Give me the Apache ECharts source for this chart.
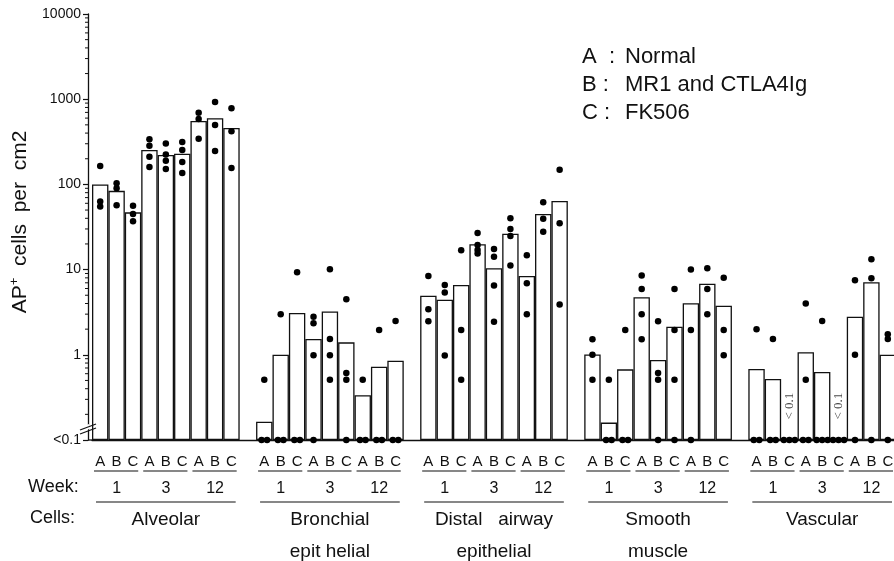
<!DOCTYPE html>
<html>
<head>
<meta charset="utf-8">
<script src="https://cdn.jsdelivr.net/npm/echarts@6/dist/echarts.min.js"></script>
<style>
html, body { margin: 0; background: #fff; }
#main { width: 894px; height: 561px; }
</style>
</head>
<body>
<div id="main"></div>
<script>
// categories
var cellTypes = ['Alveolar', 'Bronchial\nepit helial', 'Distal   airway\nepithelial', 'Smooth\nmuscle', 'Vascular'];
var weeks = ['1', '3', '12'];
var groups = ['A', 'B', 'C'];
var legendNames = ['Normal', 'MR1 and CTLA4Ig', 'FK506'];

// bar heights (mean), order: wk1 A,B,C  wk3 A,B,C  wk12 A,B,C ; 0 = <0.1
var alveolarMean  = [100, 84, 47, 254, 221, 229, 555, 597, 459];
var bronchialMean = [0.164, 1.0, 3.1, 1.53, 3.22, 1.40, 0.335, 0.725, 0.85];
var distalMean    = [4.94, 4.43, 6.6, 19.8, 10.4, 26.4, 8.4, 45, 64];
var smoothMean    = [1.01, 0.16, 0.675, 4.73, 0.87, 2.14, 4.02, 6.84, 3.77];
var vascularMean  = [0.68, 0.52, 0, 1.07, 0.63, 0, 2.8, 7.1, 1.0];

// single animals, 0 = <0.1
var alveolarCells  = [[164, 63, 55], [103, 90, 57], [56, 45, 37], [338, 284, 211, 160], [303, 225, 190, 152], [315, 254, 183, 136], [695, 587, 344], [927, 498, 247], [782, 420, 156]];
var bronchialCells = [[0.51, 0, 0], [3.0, 0, 0], [9.3, 0, 0], [2.8, 2.34, 0.99, 0], [10.1, 1.53, 0.99, 0.51], [4.5, 0.61, 0.51, 0], [0.51, 0, 0], [1.95, 0, 0], [2.5, 0, 0]];
var distalCells    = [[8.4, 3.42, 2.47], [6.6, 5.4, 0.98], [16.9, 1.95, 0.51], [26.9, 19.5, 17.0, 15.5], [17.5, 14.2, 6.5, 2.45], [40, 30, 24.8, 11.2], [14.7, 6.9, 3.0], [61.7, 39.5, 27.9], [149, 34.9, 3.9]];
var smoothCells    = [[1.52, 1.0, 0.51], [0.51, 0, 0], [1.95, 0, 0], [8.5, 5.9, 3.0, 1.52], [2.47, 0.61, 0.51, 0], [5.9, 1.95, 0.51, 0], [10, 1.95, 0], [10.4, 5.9, 3.0], [8.0, 1.95, 0.99]];
var vascularCells  = [[2.0, 0, 0], [1.53, 0, 0], [0, 0, 0], [4.0, 0.51, 0, 0], [2.5, 0, 0, 0], [0, 0, 0], [7.5, 1.0, 0], [13.2, 7.9, 0], [1.74, 1.53, 0]];

var meanSets = [alveolarMean, bronchialMean, distalMean, smoothMean, vascularMean];
var cellSets = [alveolarCells, bronchialCells, distalCells, smoothCells, vascularCells];

var font = '"Liberation Sans", Arial, Helvetica, sans-serif';
var ink = '#111';

// build slots: 9 bars per cell type, one empty slot between cell types
var slots = [], abcText = [], weekText = [], cellText = [];
var bars = [], dots = [], notes = [];
var weekSpans = [], cellSpans = [];
for (var c = 0; c < cellTypes.length; c++) {
	if (c > 0) {
		slots.push('gap' + c); abcText.push(''); weekText.push(''); cellText.push(''); bars.push('-');
	}
	var cFirst = slots.length;
	for (var w = 0; w < weeks.length; w++) {
		var wFirst = slots.length;
		for (var g = 0; g < groups.length; g++) {
			var k = w * 3 + g, idx = slots.length;
			slots.push(c + '-' + weeks[w] + groups[g]);
			abcText.push(groups[g]);
			weekText.push(g === 1 ? weeks[w] : '');
			cellText.push(w === 1 && g === 1 ? cellTypes[c] : '');
			bars.push(meanSets[c][k] > 0 ? meanSets[c][k] : '-');
			var vals = cellSets[c][k];
			var zeros = vals.filter(function (v) { return v === 0; }).length, zi = 0;
			vals.forEach(function (v) {
				if (v > 0) {
					dots.push({ value: [idx, v] });
				} else {
					// spread the <0.1 animals along the baseline
					dots.push({ value: [idx, 0.1], symbolOffset: [(zi - (zeros - 1) / 2) * 5.5, 0] });
					zi++;
				}
			});
			if (zeros === vals.length) notes.push([idx, 0.25]);
		}
		weekSpans.push([wFirst, slots.length - 1]);
	}
	cellSpans.push([cFirst, slots.length - 1]);
}

var chart = echarts.init(document.getElementById('main'));

var option = {
	animation: false,
	backgroundColor: '#fff',
	textStyle: { fontFamily: font, color: ink },
	grid: { left: 92, top: 14, width: 804, height: 426, containLabel: false, outerBoundsMode: 'none' },
	xAxis: [{
		type: 'category', data: slots, position: 'bottom',
		axisLine: { lineStyle: { color: ink, width: 1.3 } },
		axisTick: { show: false },
		axisLabel: { interval: 0, margin: 14, fontSize: 15, color: ink, fontFamily: font,
			formatter: function (v, i) { return abcText[i]; } }
	}, {
		type: 'category', data: slots, position: 'bottom', offset: 33,
		axisLine: { show: false }, axisTick: { show: false },
		axisLabel: { interval: 0, margin: 8, fontSize: 16, color: ink, fontFamily: font,
			formatter: function (v, i) { return weekText[i]; } }
	}, {
		type: 'category', data: slots, position: 'bottom', offset: 57,
		axisLine: { show: false }, axisTick: { show: false },
		axisLabel: { interval: 0, margin: 7, fontSize: 19, lineHeight: 32, color: ink, fontFamily: font,
			formatter: function (v, i) { return cellText[i]; } }
	}],
	yAxis: {
		type: 'log', logBase: 10, min: 0.1, max: 10000, startValue: 0.1,
		position: 'left', offset: 4,
		name: '{a|AP}{s|+}{a|  cells  per  cm2}',
		nameLocation: 'middle', nameRotate: 90, nameGap: 54,
		nameTextStyle: { padding: [0, 0, 0, 10], rich: {
			a: { fontSize: 21, fontFamily: font, color: ink, lineHeight: 26 },
			s: { fontSize: 13, fontFamily: font, color: ink, lineHeight: 12, verticalAlign: 'top' }
		} },
		axisLine: { show: true, lineStyle: { color: ink, width: 1.3 } },
		axisTick: { show: true, length: 5, lineStyle: { color: ink, width: 1.2 } },
		splitLine: { show: false },
		axisLabel: { margin: 7, fontSize: 14, color: ink, fontFamily: font,
			formatter: function (v) { return v < 0.5 ? '<0.1' : String(Math.round(v)); } }
	},
	series: [{
		type: 'bar', data: bars, barWidth: '100%', barCategoryGap: '0%',
		itemStyle: { color: '#fff', borderColor: ink, borderWidth: 1.3 },
		z: 2
	}, {
		type: 'scatter', data: dots, symbol: 'circle', symbolSize: 6.5, clip: false,
		itemStyle: { color: '#000', opacity: 1 }, z: 4
	}, {
		type: 'scatter', data: notes, symbolSize: 0, clip: false, z: 5,
		label: { show: true, position: 'inside', rotate: 90, formatter: '< 0.1',
			fontSize: 13, fontFamily: '"Liberation Serif", "DejaVu Serif", serif', color: ink }
	}]
};
chart.setOption(option);

// axis decorations drawn from the axis scales
var gfx = [];
var x0 = chart.convertToPixel({ xAxisIndex: 0 }, 0);
var half = (chart.convertToPixel({ xAxisIndex: 0 }, 1) - x0) / 2;
var axisX = 88;
var baseY = chart.convertToPixel({ yAxisIndex: 0 }, 0.1);

// log minor ticks
for (var e = -1; e < 4; e++) {
	for (var m = 2; m < 10; m++) {
		var py = chart.convertToPixel({ yAxisIndex: 0 }, m * Math.pow(10, e));
		gfx.push({ type: 'line', shape: { x1: axisX - 3, y1: py, x2: axisX, y2: py }, style: { stroke: ink, lineWidth: 1 } });
	}
}
// baseline from y axis to first bar
gfx.push({ type: 'line', shape: { x1: axisX, y1: baseY, x2: x0 - half, y2: baseY }, style: { stroke: ink, lineWidth: 1.3 } });
// axis break mark
gfx.push({ type: 'line', shape: { x1: axisX - 1, y1: baseY - 15, x2: axisX + 1, y2: baseY - 11 }, style: { stroke: '#fff', lineWidth: 4 }, z: 10 });
gfx.push({ type: 'line', shape: { x1: axisX - 8, y1: baseY - 10, x2: axisX + 8, y2: baseY - 16 }, style: { stroke: ink, lineWidth: 1.3 }, z: 11 });
gfx.push({ type: 'line', shape: { x1: axisX - 8, y1: baseY - 6, x2: axisX + 8, y2: baseY - 12 }, style: { stroke: ink, lineWidth: 1.3 }, z: 11 });

// underlines for A B C groups and week groups
weekSpans.forEach(function (s) {
	var a = chart.convertToPixel({ xAxisIndex: 0 }, s[0]) - half;
	var b = chart.convertToPixel({ xAxisIndex: 0 }, s[1]) + half;
	gfx.push({ type: 'line', shape: { x1: a + 2, y1: baseY + 31, x2: b - 3, y2: baseY + 31 }, style: { stroke: ink, lineWidth: 1.2 } });
});
cellSpans.forEach(function (s) {
	var a = chart.convertToPixel({ xAxisIndex: 0 }, s[0]) - half;
	var b = chart.convertToPixel({ xAxisIndex: 0 }, s[1]) + half;
	gfx.push({ type: 'line', shape: { x1: a + 4, y1: baseY + 62, x2: b - 4, y2: baseY + 62 }, style: { stroke: ink, lineWidth: 1.2 } });
});

// row titles
gfx.push({ type: 'text', left: 28, top: baseY + 38, style: { text: 'Week:', font: '18px ' + font, fill: ink } });
gfx.push({ type: 'text', left: 30, top: baseY + 69, style: { text: 'Cells:', font: '18px ' + font, fill: ink } });

// legend
groups.forEach(function (gName, i) {
	gfx.push({ type: 'text', left: 582, top: 46 + i * 28, style: { text: gName + (i === 0 ? '  :' : ' :'), font: '22px ' + font, fill: ink } });
	gfx.push({ type: 'text', left: 625, top: 46 + i * 28, style: { text: legendNames[i], font: '22px ' + font, fill: ink } });
});

chart.setOption({ graphic: { elements: gfx } });
</script>
</body>
</html>
